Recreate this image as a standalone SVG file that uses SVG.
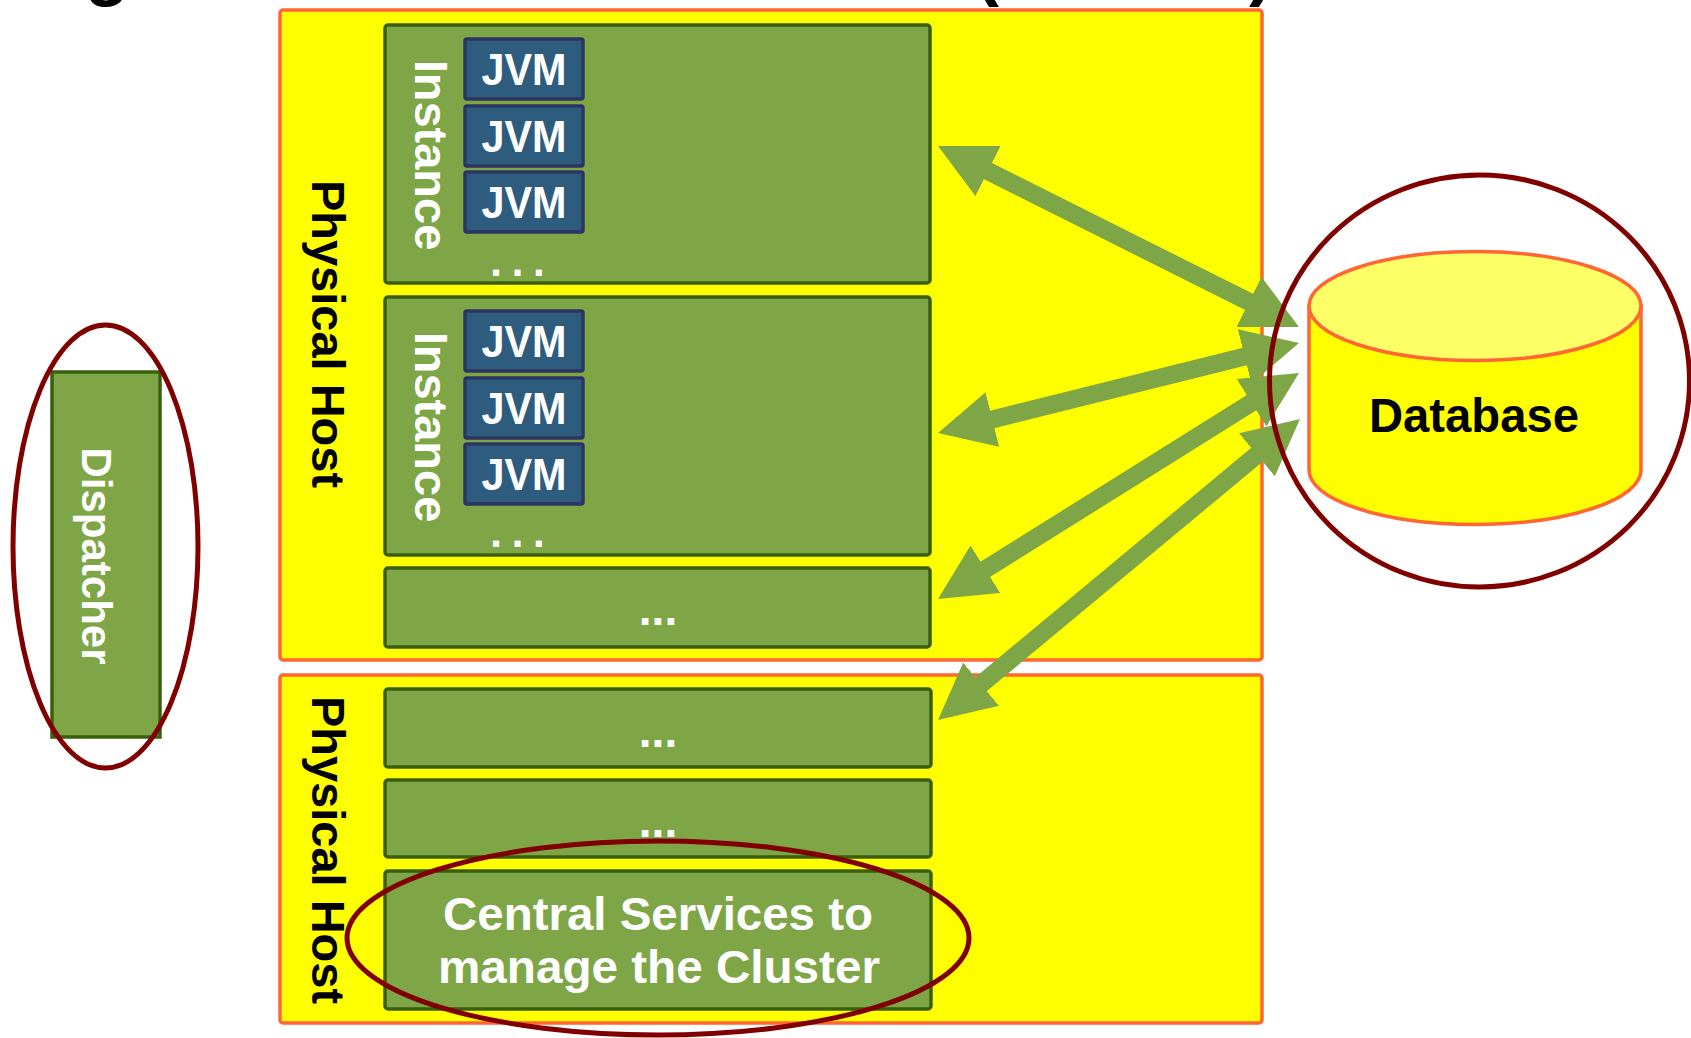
<svg xmlns="http://www.w3.org/2000/svg" width="1691" height="1038" viewBox="0 0 1691 1038">
  <style>
    .host { fill: #FFFF00; stroke: #FF6633; stroke-width: 3.5; }
    .box { fill: #7EA646; stroke: #3A5F0B; stroke-width: 3.5; }
    .jvm { fill: #2E5C7E; stroke: #2E3461; stroke-width: 3.5; }
    .txt { font-family: "Liberation Sans", Arial, sans-serif; font-weight: bold; }
    .white { fill: #FFFFFF; }
    .black { fill: #000000; }
    .ring { fill: none; stroke: #800000; stroke-width: 5; }
    .arrow { fill: none; stroke: #7EA646; stroke-width: 18; marker-start: url(#head); marker-end: url(#head); }
    .db { fill: #FFFF00; stroke: #FF6633; stroke-width: 3.5; }
    .dbtop { fill: #FFFF66; stroke: #FF6633; stroke-width: 3.5; }
  </style>
  <defs>
    <marker id="head" markerUnits="userSpaceOnUse" viewBox="0 0 56 56" markerWidth="56" markerHeight="56" refX="36" refY="28" orient="auto-start-reverse">
      <path d="M0,0 L56,28 L0,56 Z" fill="#7EA646"/>
    </marker>
  </defs>

  <g id="title-fragment" class="txt black" font-size="72">
    <text x="85" y="-8">g</text>
    <text x="975" y="-8">(</text>
    <text x="1249" y="-8">)</text>
  </g>

  <g id="host-top">
    <rect class="host" x="280" y="10" width="982" height="650" rx="3"/>
    <text class="txt black" font-size="47" text-anchor="middle" transform="translate(312,334) rotate(90)">Physical Host</text>
  </g>

  <g id="instance-1">
    <rect class="box" x="385" y="25" width="545" height="258" rx="3"/>
    <text class="txt white" font-size="47" text-anchor="middle" transform="translate(415,155) rotate(90)">Instance</text>
    <g id="jvm-1a"><rect class="jvm" x="465" y="39" width="118" height="60" rx="2"/><text class="txt white" font-size="44" x="524" y="85" text-anchor="middle" textLength="85" lengthAdjust="spacingAndGlyphs">JVM</text></g>
    <g id="jvm-1b"><rect class="jvm" x="465" y="106" width="118" height="60" rx="2"/><text class="txt white" font-size="44" x="524" y="152" text-anchor="middle" textLength="85" lengthAdjust="spacingAndGlyphs">JVM</text></g>
    <g id="jvm-1c"><rect class="jvm" x="465" y="172" width="118" height="60" rx="2"/><text class="txt white" font-size="44" x="524" y="218" text-anchor="middle" textLength="85" lengthAdjust="spacingAndGlyphs">JVM</text></g>
    <text class="txt white" font-size="42" x="517" y="276" text-anchor="middle" letter-spacing="-1">. . .</text>
  </g>

  <g id="instance-2">
    <rect class="box" x="385" y="297" width="545" height="258" rx="3"/>
    <text class="txt white" font-size="47" text-anchor="middle" transform="translate(415,427) rotate(90)">Instance</text>
    <g id="jvm-2a"><rect class="jvm" x="465" y="311" width="118" height="60" rx="2"/><text class="txt white" font-size="44" x="524" y="357" text-anchor="middle" textLength="85" lengthAdjust="spacingAndGlyphs">JVM</text></g>
    <g id="jvm-2b"><rect class="jvm" x="465" y="378" width="118" height="60" rx="2"/><text class="txt white" font-size="44" x="524" y="424" text-anchor="middle" textLength="85" lengthAdjust="spacingAndGlyphs">JVM</text></g>
    <g id="jvm-2c"><rect class="jvm" x="465" y="444" width="118" height="60" rx="2"/><text class="txt white" font-size="44" x="524" y="490" text-anchor="middle" textLength="85" lengthAdjust="spacingAndGlyphs">JVM</text></g>
    <text class="txt white" font-size="42" x="517" y="547" text-anchor="middle" letter-spacing="-1">. . .</text>
  </g>

  <g id="instance-3">
    <rect class="box" x="385" y="568" width="545" height="79" rx="3"/>
    <text class="txt white" font-size="46" x="658" y="625" text-anchor="middle">...</text>
  </g>

  <g id="host-bottom">
    <rect class="host" x="280" y="675" width="982" height="348" rx="3"/>
    <text class="txt black" font-size="47" text-anchor="middle" transform="translate(312,850) rotate(90)">Physical Host</text>
  </g>

  <g id="instance-4">
    <rect class="box" x="385" y="689" width="546" height="78" rx="3"/>
    <text class="txt white" font-size="46" x="658" y="747" text-anchor="middle">...</text>
  </g>

  <g id="instance-5">
    <rect class="box" x="385" y="780" width="546" height="77" rx="3"/>
    <text class="txt white" font-size="46" x="658" y="837" text-anchor="middle">...</text>
  </g>

  <g id="central-services">
    <rect class="box" x="385" y="871" width="546" height="138" rx="3"/>
    <text class="txt white" font-size="47" x="658" y="930" text-anchor="middle" textLength="430" lengthAdjust="spacingAndGlyphs">Central Services to</text>
    <text class="txt white" font-size="47" x="659" y="983" text-anchor="middle" textLength="442" lengthAdjust="spacingAndGlyphs">manage the Cluster</text>
  </g>

  <g id="dispatcher">
    <rect class="box" x="52" y="372" width="108" height="365"/>
    <text class="txt white" font-size="42" text-anchor="middle" transform="translate(82,556) rotate(90)">Dispatcher</text>
  </g>

  <g id="database">
    <path class="db" d="M1309,306 L1309,470 A166,54.5 0 0 0 1641,470 L1641,306 Z"/>
    <ellipse class="dbtop" cx="1475" cy="306" rx="166" ry="54.5"/>
    <text class="txt black" font-size="48" x="1474" y="432" text-anchor="middle" textLength="210" lengthAdjust="spacingAndGlyphs">Database</text>
  </g>

  <g id="connectors">
    <line class="arrow" x1="955.9" y1="155.0" x2="1281.1" y2="318.0"/>
    <line class="arrow" x1="957.4" y1="428.2" x2="1279.6" y2="347.8"/>
    <line class="arrow" x1="954.9" y1="588.4" x2="1282.0" y2="383.6"/>
    <line class="arrow" x1="953.4" y1="707.2" x2="1284.6" y2="431.8"/>
  </g>

  <g id="highlights">
    <ellipse class="ring" cx="105.5" cy="546.5" rx="92.5" ry="221.5"/>
    <ellipse class="ring" cx="1479.5" cy="381" rx="210" ry="206"/>
    <ellipse class="ring" cx="658" cy="938" rx="311" ry="97"/>
  </g>
</svg>
